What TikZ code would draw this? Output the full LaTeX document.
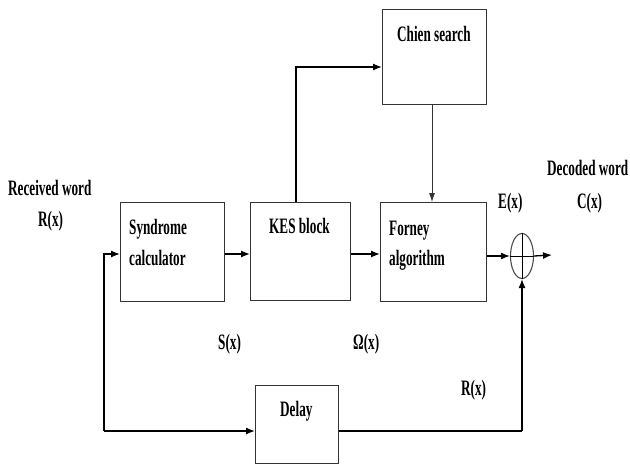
\documentclass[tikz,border=0pt]{standalone}
\usepackage{fontspec}
\setmainfont[FakeStretch=0.6]{Liberation Serif}
\usetikzlibrary{arrows.meta,shapes.geometric}
\begin{document}
\begin{tikzpicture}[x=1pt,y=-1pt,
  box/.style={draw=black!80,line width=1.3pt,rectangle,inner sep=0pt,anchor=north west},
  lbl/.style={inner sep=0pt,anchor=base west,font=\fontsize{22}{26}\selectfont\bfseries},
  arr/.style={draw=black,line width=1.3pt,-{Latex[length=9pt,width=7pt]}},
  ln/.style={draw=black,line width=1.3pt}]
\useasboundingbox (0,0) rectangle (630,464);
% boxes
\node[box,minimum width=104pt,minimum height=99pt] (syn) at (120,202) {};
\node[box,minimum width=100pt,minimum height=98pt] (kes) at (250,202) {};
\node[box,minimum width=106pt,minimum height=99pt] (for) at (380,202) {};
\node[box,minimum width=104pt,minimum height=95pt] (chi) at (382,9) {};
\node[box,minimum width=83pt,minimum height=78pt] (del) at (255,385) {};
\node[draw=black!70,line width=1.1pt,ellipse,minimum width=23pt,minimum height=45pt,inner sep=0pt] (sum) at (522,256) {};
\draw[line width=0.9pt] (sum.north) -- (sum.south) (sum.west) -- (sum.east);
% labels
\node[lbl] (t1) at (8,195) {Received word};
\node[lbl] (t2) at (38,226) {R(x)};
\node[lbl] (t3) at (129,234) {Syndrome};
\node[lbl] (t4) at (129,265) {calculator};
\node[lbl] (t5) at (269,233) {KES block};
\node[lbl] (t6) at (397,41) {Chien search};
\node[lbl] (t7) at (389,235) {Forney};
\node[lbl] (t8) at (389,265) {algorithm};
\node[lbl] (t9) at (498,208) {E(x)};
\node[lbl] (t10) at (547,175) {Decoded word};
\node[lbl] (t11) at (577,208) {C(x)};
\node[lbl] (t12) at (218,349) {S(x)};
\node[lbl] (t13) at (353,349) {Ω(x)};
\node[lbl] (t14) at (461,395) {R(x)};
\node[lbl] (t15) at (280,416) {Delay};
% connectors
\coordinate (in) at (104,254);
\coordinate (dl) at (104,431);
\coordinate (dr) at (522,431);
\coordinate (out) at (552,255);
\coordinate (kt) at (296,202);
\coordinate (ct) at (296,67);
\coordinate (cb) at (432,104);
\draw[arr] (dl) -- (in) -- (in -| syn.west);
\draw[arr] (dl) -- (dl -| del.west);
\draw[ln] (del.east |- dr) -- (dr);
\draw[arr] (dr) -- (sum.south);
\draw[arr] (syn.east |- in) -- (kes.west |- in);
\draw[arr] (kes.east |- in) -- (for.west |- in);
\draw[arr] (for.east |- sum.west) -- (sum.west);
\draw[arr] (sum.east) -- (out);
\draw[arr] (kt) -- (ct) -- (ct -| chi.west);
\draw[draw=black!80,line width=0.8pt,-{Latex[length=9pt,width=6pt]}] (cb) -- (cb |- for.north);
\end{tikzpicture}
\end{document}
